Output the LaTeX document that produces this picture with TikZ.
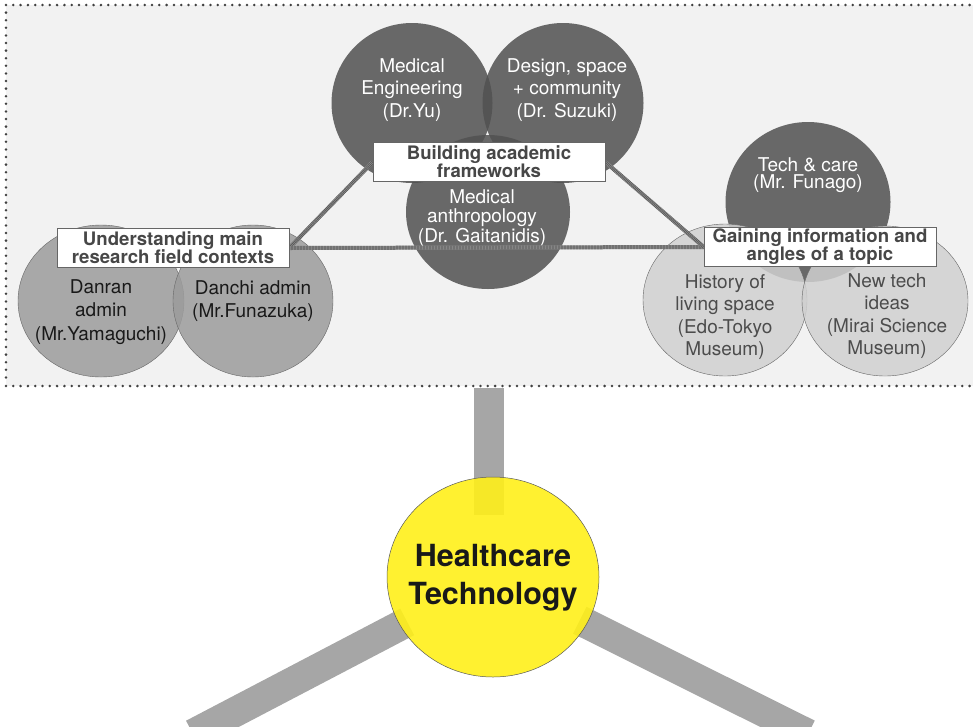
\documentclass[tikz,border=0pt]{standalone}
\usepackage{fontspec}
\setmainfont{TeX Gyre Heros}
\usetikzlibrary{shapes.geometric,positioning}

\definecolor{panelbg}{HTML}{F2F2F2}
\definecolor{dotgray}{HTML}{404040}
\definecolor{darkcirc}{HTML}{515151}
\definecolor{midcirc}{HTML}{9C9C9C}
\definecolor{lightcirc}{HTML}{D0D0D0}
\definecolor{boxtext}{HTML}{474747}
\definecolor{barfill}{HTML}{A6A6A6}
\definecolor{hcyellow}{HTML}{FFF01A}

\pgfdeclarelayer{under}
\pgfdeclarelayer{over}
\pgfsetlayers{under,main,over}

\tikzset{
  framedot/.style={fill=dotgray},
  blob/.style={ellipse, inner sep=0pt, fill opacity=0.85},
  darkblob/.style={blob, fill=darkcirc},
  midblob/.style={blob, fill=midcirc, draw=gray!80!black, line width=0.4pt},
  lightblob/.style={blob, fill=lightcirc, draw=gray!80!black, line width=0.4pt},
  circtext/.style={align=center, inner sep=0pt, text=white},
  topicbox/.style={draw=gray!80!black, line width=0.5pt, fill=white, align=center,
    inner sep=0pt, minimum width=232pt, minimum height=39pt, text=boxtext,
    font=\bfseries\fontsize{18.6}{18}\selectfont},
  link/.style={draw=gray!75, line width=4pt,
    postaction={draw=black!65, line width=4pt, dash pattern=on 0.75pt off 0.75pt}},
  bar/.style={draw=barfill, line width=30pt}
}

\begin{document}
\begin{tikzpicture}[x=1pt, y=-1pt]
  \useasboundingbox (0,0) rectangle (973,726);

  % grey panel with dotted frame
  \fill[panelbg] (6,5) rectangle (973,386);
  \foreach \x in {6,13.3,...,973} {
    \fill[framedot] (\x,5) circle (1.4pt);
    \fill[framedot] (\x,386) circle (1.4pt);
  }
  \foreach \y in {12.6,20.2,...,382} \fill[framedot] (6,\y) circle (1.4pt);

  % academic circles
  \node[darkblob, minimum width=161pt, minimum height=160pt] (me) at (412,103) {};
  \node[darkblob, minimum width=161pt, minimum height=160pt] (ds) at (563,103) {};
  \node[darkblob, minimum width=164pt, minimum height=154pt] (ma) at (488,212) {};
  \node[darkblob, minimum width=165pt, minimum height=160pt] (tc) at (808,202) {};

  % field circles
  \node[midblob, minimum width=166pt, minimum height=152pt] (dr) at (101,301) {};
  \node[midblob, minimum width=160pt, minimum height=152pt] (dc) at (253,301) {};

  % museum circles
  \node[lightblob, minimum width=164pt, minimum height=152pt] (hl) at (725,300) {};
  \node[lightblob, minimum width=166pt, minimum height=150pt] (nt) at (885,301) {};

  % circle texts
  \node[circtext, font=\fontsize{19}{22.5}\selectfont] (me-t) at ([yshift=13pt]me.center) {Medical\\Engineering\\(Dr.Yu)};
  \node[circtext, font=\fontsize{19}{22.5}\selectfont] (ds-t) at ([xshift=4pt, yshift=13pt]ds.center) {Design, space\\+ community\\(Dr. Suzuki)};
  \node[circtext, font=\fontsize{19}{19.5}\selectfont] (ma-t) at ([xshift=-6pt, yshift=-6pt]ma.center) {Medical\\anthropology\\(Dr. Gaitanidis)};
  \node[circtext, font=\fontsize{19}{17.5}\selectfont] (tc-t) at ([yshift=27pt]tc.center) {Tech \& care\\(Mr. Funago)};
  \node[circtext, text=black!90, font=\fontsize{19}{23.5}\selectfont] (dr-t) at ([yshift=-11pt]dr.center) {Danran\\admin\\(Mr.Yamaguchi)};
  \node[circtext, text=black!90, font=\fontsize{19}{22.5}\selectfont] (dc-t) at (dc.center) {Danchi admin\\(Mr.Funazuka)};
  \node[circtext, text=black!70, font=\fontsize{19}{22.5}\selectfont] (hl-t) at ([yshift=-17pt]hl.center) {History of\\living space\\(Edo-Tokyo\\Museum)};
  \node[circtext, text=black!70, font=\fontsize{19}{22.5}\selectfont] (nt-t) at ([xshift=2pt, yshift=-15pt]nt.center) {New tech\\ideas\\(Mirai Science\\Museum)};

  % topic boxes sit above the links
  \begin{pgfonlayer}{over}
    \node[topicbox] (bld) at (489,162) {Building academic\\frameworks};
    \node[topicbox] (und) at (173,248) {Understanding main\\research field contexts};
    \node[topicbox] (gain) at (820,247) {Gaining information and\\angles of a topic};
  \end{pgfonlayer}
  \draw[link] (bld.west) -- (und.east);
  \draw[link] (und.east) -- (gain.west);
  \draw[link] (bld.east) -- (gain.west);

  % hub
  \node[ellipse, fill=hcyellow, fill opacity=0.9, draw=gray!70!black, line width=0.5pt,
    minimum width=212pt, minimum height=200pt, inner sep=0pt] (hub) at (493,577) {};
  \node[align=center, inner sep=0pt, text=black!90,
    font=\bfseries\fontsize{30.5}{38}\selectfont] (hub-t) at ([yshift=-1pt]hub.center) {Healthcare\\Technology};

  % stems of the hub
  \coordinate (stem) at (489,388);
  \coordinate (stemend) at (489,515);
  \coordinate (lfoot) at (193,734);
  \coordinate (rfoot) at (808,734);
  \begin{pgfonlayer}{under}
    \draw[bar] (stem) -- (stemend);
    \draw[bar, shorten <=-8pt] (hub) -- (lfoot);
    \draw[bar, shorten <=-8pt] (hub) -- (rfoot);
  \end{pgfonlayer}
\end{tikzpicture}
\end{document}
